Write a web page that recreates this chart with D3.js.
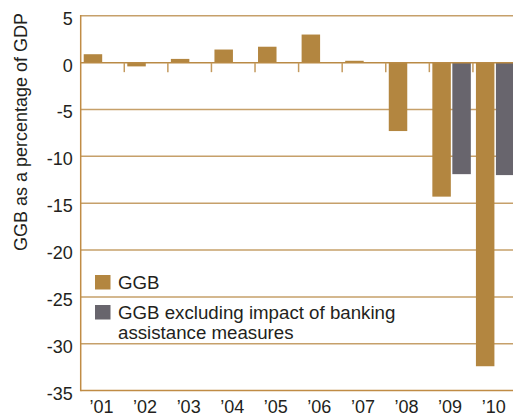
<!DOCTYPE html>
<html>
<head>
<meta charset="utf-8">
<script src="https://cdn.jsdelivr.net/npm/d3@7"></script>
<style>
  html, body { margin: 0; padding: 0; background: #ffffff; }
  svg { display: block; }
  text { font-family: "Liberation Sans", Arial, Helvetica, sans-serif; fill: #231f20; }
</style>
</head>
<body>
<svg id="chart" width="513" height="418"></svg>
<script>
// General government balance, % of GDP
const years = ["’01", "’02", "’03", "’04", "’05", "’06", "’07", "’08", "’09", "’10"];
const ggb = [0.9, -0.4, 0.4, 1.4, 1.7, 3.0, 0.2, -7.3, -14.3, -32.4];
const ggbExBanking = [null, null, null, null, null, null, null, null, -11.9, -12.0];
const seriesNames = ["GGB", "GGB excluding impact of banking assistance measures"];
const seriesColors = ["#b38640", "#68656d"];
const yTicks = [5, 0, -5, -10, -15, -20, -25, -30, -35];

const svg = d3.select("#chart");
const plot = { left: 80.7, right: 516.5, top: 15.8, bottom: 390.6 };

const x = d3.scaleBand().domain(years).range([plot.left, plot.right]).paddingInner(0).paddingOuter(0);
const x1 = d3.scaleBand().domain(seriesNames).range([0, x.bandwidth()])
  .paddingInner(0.075).paddingOuter(0.1275).align(0.59);
const y = d3.scaleLinear().domain([-35, 5]).range([plot.bottom, plot.top]);
const color = d3.scaleOrdinal().domain(seriesNames).range(seriesColors);

// horizontal gridlines (behind bars)
svg.append("g").selectAll("line")
  .data(yTicks.filter(d => d !== 0 && d !== -35))
  .join("line")
  .attr("x1", plot.left).attr("x2", plot.right)
  .attr("y1", d => y(d)).attr("y2", d => y(d))
  .attr("stroke", "#c6a06a").attr("stroke-width", 1.5);

// bars
const rows = [];
years.forEach((yr, i) => {
  rows.push({ year: yr, series: seriesNames[0], value: ggb[i] });
  if (ggbExBanking[i] !== null) rows.push({ year: yr, series: seriesNames[1], value: ggbExBanking[i] });
});
svg.append("g").selectAll("rect")
  .data(rows)
  .join("rect")
  .attr("x", d => x(d.year) + x1(d.series))
  .attr("width", x1.bandwidth())
  .attr("y", d => y(Math.max(0, d.value)))
  .attr("height", d => Math.abs(y(d.value) - y(0)))
  .attr("fill", d => color(d.series));

// axes frame: left line, zero line, bottom line
const axisColor = "#c08c45";
svg.append("line").attr("x1", plot.left).attr("x2", plot.left).attr("y1", plot.top - 0.75).attr("y2", plot.bottom + 0.75)
  .attr("stroke", axisColor).attr("stroke-width", 1.5);
svg.append("line").attr("x1", plot.left).attr("x2", plot.right).attr("y1", y(0)).attr("y2", y(0))
  .attr("stroke", "#b98a45").attr("stroke-width", 1.5);
svg.append("line").attr("x1", plot.left).attr("x2", plot.right).attr("y1", y(-35)).attr("y2", y(-35))
  .attr("stroke", axisColor).attr("stroke-width", 1.5);

// category boundary ticks hanging from the zero line
svg.append("g").selectAll("line")
  .data(years.slice(1))
  .join("line")
  .attr("x1", d => x(d)).attr("x2", d => x(d))
  .attr("y1", y(0)).attr("y2", y(0) + 9.5)
  .attr("stroke", "#c49a5e").attr("stroke-width", 1.5);

// y tick labels
svg.append("g").selectAll("text")
  .data(yTicks)
  .join("text")
  .attr("x", plot.left - 8)
  .attr("y", d => y(d) + 8.9)
  .attr("text-anchor", "end")
  .attr("font-size", 18)
  .text(d => d);

// x labels
svg.append("g").selectAll("text")
  .data(years)
  .join("text")
  .attr("x", d => x(d) + x.bandwidth() / 2 - 1)
  .attr("y", 413)
  .attr("text-anchor", "middle")
  .attr("font-size", 18)
  .text(d => d);

// y axis title
svg.append("text")
  .attr("transform", "translate(27,132) rotate(-90)")
  .attr("text-anchor", "middle")
  .attr("font-size", 18)
  .text("GGB as a percentage of GDP");

// legend
const legend = svg.append("g");
const legendItems = [
  { name: seriesNames[0], lines: ["GGB"], y: 275 },
  { name: seriesNames[1], lines: ["GGB excluding impact of banking", "assistance measures"], y: 305 }
];
legendItems.forEach(item => {
  legend.append("rect").attr("x", 95).attr("y", item.y).attr("width", 15.5).attr("height", 14.5)
    .attr("fill", color(item.name));
  const t = legend.append("text").attr("x", 118).attr("y", item.y + 14.2).attr("font-size", 18.7);
  item.lines.forEach((ln, i) => {
    t.append("tspan").attr("x", 118).attr("dy", i === 0 ? 0 : 20).text(ln);
  });
});
</script>
</body>
</html>
